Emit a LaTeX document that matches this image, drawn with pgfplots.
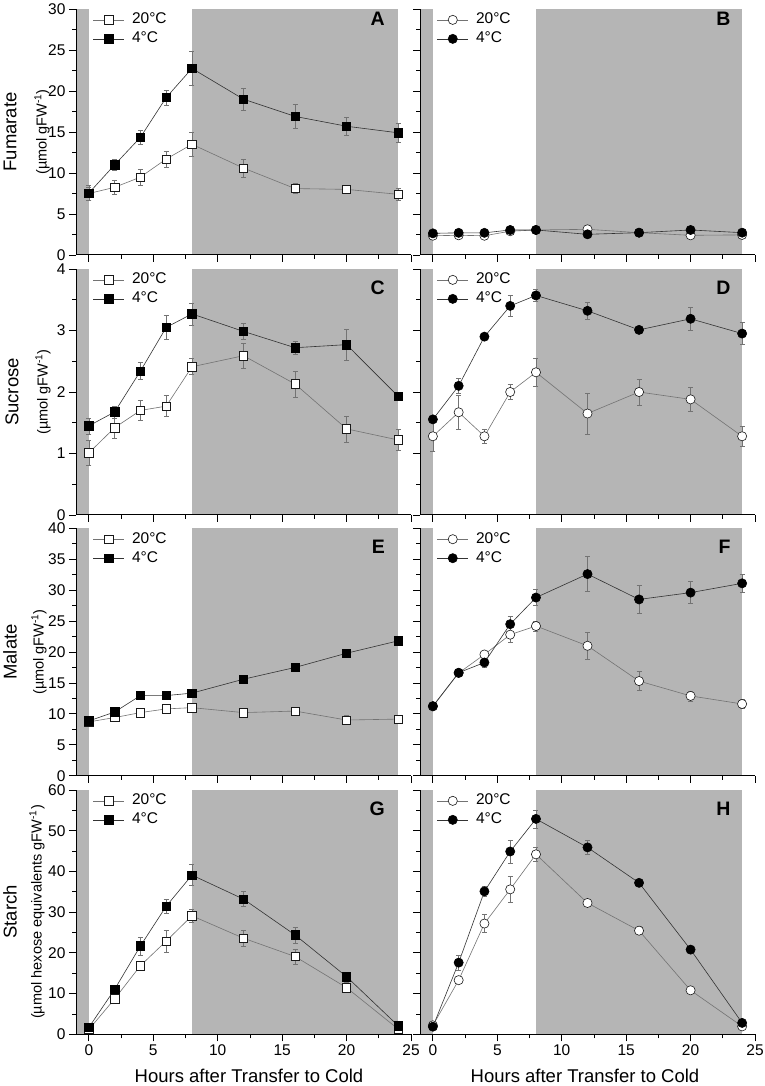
\documentclass[border=0pt]{standalone}
\usepackage{fontspec}
\setmainfont{Liberation Sans}
\usepackage{pgfplots}
\pgfplotsset{compat=1.18}
\definecolor{shade}{RGB}{181,181,181}
\pgfplotsset{
  panel/.style={
    scale only axis, width=335pt,
    xmin=-1, xmax=25, ymin=0,
    axis lines*=left, axis on top, clip=false,
    xtick={0,5,...,25}, minor x tick num=1, minor y tick num=1,
    tick pos=left, tick align=outside,
    major tick length=7pt, minor tick length=4pt,
    every tick/.style={black, line width=0.8pt},
    axis line style={black, line width=1pt},
    tick label style={font=\fontsize{15.5}{18}\selectfont},
    /pgf/number format/assume math mode=true,
    xticklabels={{},{},{},{},{},{}},
    legend cell align=left,
    legend image code/.code={\draw[mark repeat=2, mark phase=2, #1] plot coordinates {(0pt,0pt) (15.5pt,0pt) (31pt,0pt)};},
    legend style={draw=none, fill=none, at={(0.05,0.985)}, anchor=north west,
      inner sep=0pt, row sep=5pt, font=\fontsize{15.5}{18}\selectfont,
      nodes={inner sep=0pt, text height=11pt, text depth=3pt},
      /tikz/every odd column/.append style={column sep=7.5pt}},
  },
  leftp/.style={panel},
  rightp/.style={panel, yticklabels={{},{},{},{},{},{},{},{},{},{}}},
  bottomx/.style={xticklabels={0,5,10,15,20,25}},
  eb/.style={/pgfplots/error bars/y dir=both, /pgfplots/error bars/y explicit,
    /pgfplots/error bars/error bar style={black!55, line width=0.6pt},
    /pgfplots/error bars/error mark options={rotate=90, mark size=2.5pt, black!55, line width=0.6pt}},
  w20/.style={black!55, line width=0.6pt, mark size=4.2pt, mark options={fill=white, draw=black!90, line width=0.6pt}, eb},
  c4/.style={black!80, line width=0.6pt, mark size=4.2pt, mark options={fill=black, draw=black, line width=0.6pt}, eb},
  sq20/.style={w20, mark=square*},
  sq4/.style={c4, mark=square*},
  ci20/.style={w20, mark=*, mark size=4.6pt},
  ci4/.style={c4, mark=*, mark size=4.6pt},
}
\newcommand{\shading}[1]{%
  \addplot[draw=none, fill=shade, forget plot] coordinates {(-1,#1) (0,#1)} \closedcycle;
  \addplot[draw=none, fill=shade, forget plot] coordinates {(8,#1) (24,#1)} \closedcycle;}
\newcommand{\lblbig}[1]{\fontsize{18.5}{22}\selectfont #1}
\newcommand{\lblsm}[1]{\fontsize{14.5}{17}\selectfont #1}
\begin{document}
\begin{tikzpicture}
\useasboundingbox (0,0) rectangle (764pt,1086pt);
% ---------- Row 1
\begin{axis}[leftp, at={(76pt,831pt)}, anchor=south west, height=246pt, ymax=30, ytick={0,5,...,30}]
\shading{30}
\addplot[sq20] coordinates {(0,7.5)+-(0,0.8) (2,8.25)+-(0,0.8) (4,9.5)+-(0,1.0) (6,11.7)+-(0,1.0) (8,13.5)+-(0,1.5) (12,10.6)+-(0,1.1) (16,8.1)+-(0,0.6) (20,8.0)+-(0,0.4) (24,7.4)+-(0,0.7)};
\addplot[sq4] coordinates {(0,7.55)+-(0,0.9) (2,11.0)+-(0,0.7) (4,14.35)+-(0,0.8) (6,19.2)+-(0,0.9) (8,22.75)+-(0,2.1) (12,19.0)+-(0,1.3) (16,16.9)+-(0,1.5) (20,15.7)+-(0,1.1) (24,14.9)+-(0,1.15)};
\legend{20\textdegree C, 4\textdegree C}
\end{axis}
\begin{axis}[rightp, at={(420pt,831pt)}, anchor=south west, height=246pt, ymax=30, ytick={0,5,...,30}]
\shading{30}
\addplot[ci20] coordinates {(0,2.35)+-(0,0.1) (2,2.4)+-(0,0.1) (4,2.35)+-(0,0.1) (6,2.9)+-(0,0.1) (8,3.05)+-(0,0.1) (12,3.13)+-(0,0.1) (16,2.72)+-(0,0.1) (20,2.4)+-(0,0.1) (24,2.45)+-(0,0.1)};
\addplot[ci4] coordinates {(0,2.64)+-(0,0.1) (2,2.7)+-(0,0.1) (4,2.7)+-(0,0.1) (6,3.05)+-(0,0.1) (8,3.05)+-(0,0.1) (12,2.52)+-(0,0.1) (16,2.72)+-(0,0.1) (20,3.05)+-(0,0.1) (24,2.72)+-(0,0.1)};
\legend{20\textdegree C, 4\textdegree C}
\end{axis}
% ---------- Row 2
\begin{axis}[leftp, at={(76pt,571pt)}, anchor=south west, height=246pt, ymax=4, ytick={0,1,...,4}]
\shading{4}
\addplot[sq20] coordinates {(0,1.01)+-(0,0.2) (2,1.42)+-(0,0.18) (4,1.70)+-(0,0.16) (6,1.77)+-(0,0.17) (8,2.41)+-(0,0.13) (12,2.59)+-(0,0.2) (16,2.13)+-(0,0.21) (20,1.40)+-(0,0.21) (24,1.22)+-(0,0.17)};
\addplot[sq4] coordinates {(0,1.45)+-(0,0.13) (2,1.675)+-(0,0.1) (4,2.34)+-(0,0.14) (6,3.05)+-(0,0.2) (8,3.27)+-(0,0.18) (12,2.985)+-(0,0.13) (16,2.72)+-(0,0.1) (20,2.77)+-(0,0.25) (24,1.93)+-(0,0.05)};
\legend{20\textdegree C, 4\textdegree C}
\end{axis}
\begin{axis}[rightp, at={(420pt,571pt)}, anchor=south west, height=246pt, ymax=4, ytick={0,1,...,4}]
\shading{4}
\addplot[ci20] coordinates {(0,1.28)+-(0,0.24) (2,1.67)+-(0,0.27) (4,1.28)+-(0,0.11) (6,2.0)+-(0,0.12) (8,2.32)+-(0,0.22) (12,1.65)+-(0,0.33) (16,2.0)+-(0,0.21) (20,1.88)+-(0,0.2) (24,1.28)+-(0,0.17)};
\addplot[ci4] coordinates {(0,1.555)+-(0,0.05) (2,2.10)+-(0,0.12) (4,2.90)+-(0,0.05) (6,3.40)+-(0,0.17) (8,3.57)+-(0,0.1) (12,3.32)+-(0,0.14) (16,3.01)+-(0,0.05) (20,3.19)+-(0,0.18) (24,2.95)+-(0,0.18)};
\legend{20\textdegree C, 4\textdegree C}
\end{axis}
% ---------- Row 3
\begin{axis}[leftp, at={(76pt,310.3pt)}, anchor=south west, height=247.4pt, ymax=40, ytick={0,5,...,40}]
\shading{40}
\addplot[sq20] coordinates {(0,8.7)+-(0,0.5) (2,9.4)+-(0,0.4) (4,10.2)+-(0,0.4) (6,10.8)+-(0,0.4) (8,11.0)+-(0,0.5) (12,10.2)+-(0,0.4) (16,10.45)+-(0,0.4) (20,9.0)+-(0,0.7) (24,9.15)+-(0,0.5)};
\addplot[sq4] coordinates {(0,8.85)+-(0,0.5) (2,10.3)+-(0,0.5) (4,12.95)+-(0,0.4) (6,12.95)+-(0,0.4) (8,13.35)+-(0,0.4) (12,15.6)+-(0,0.4) (16,17.5)+-(0,0.6) (20,19.8)+-(0,0.6) (24,21.8)+-(0,0.4)};
\legend{20\textdegree C, 4\textdegree C}
\end{axis}
\begin{axis}[rightp, at={(420pt,310.3pt)}, anchor=south west, height=247.4pt, ymax=40, ytick={0,5,...,40}]
\shading{40}
\addplot[ci20] coordinates {(0,11.2)+-(0,0.3) (2,16.6)+-(0,0.5) (4,19.6)+-(0,0.5) (6,22.8)+-(0,1.2) (8,24.2)+-(0,0.8) (12,21.0)+-(0,2.15) (16,15.3)+-(0,1.5) (20,12.9)+-(0,0.8) (24,11.6)+-(0,0.7)};
\addplot[ci4] coordinates {(0,11.25)+-(0,0.3) (2,16.65)+-(0,0.5) (4,18.3)+-(0,0.8) (6,24.5)+-(0,1.3) (8,28.8)+-(0,1.3) (12,32.6)+-(0,2.8) (16,28.5)+-(0,2.3) (20,29.6)+-(0,1.75) (24,31.1)+-(0,1.45)};
\legend{20\textdegree C, 4\textdegree C}
\end{axis}
% ---------- Row 4
\begin{axis}[leftp, bottomx, at={(76pt,51.7pt)}, anchor=south west, height=244.3pt, ymax=60, ytick={0,10,...,60}]
\shading{60}
\addplot[sq20] coordinates {(0,1.2)+-(0,0.5) (2,8.7)+-(0,0.8) (4,16.85)+-(0,0.8) (6,22.9)+-(0,2.7) (8,29.1)+-(0,1.7) (12,23.6)+-(0,2.0) (16,19.1)+-(0,1.8) (20,11.45)+-(0,1.2) (24,1.3)+-(0,0.4)};
\addplot[sq4] coordinates {(0,1.7)+-(0,0.5) (2,11.05)+-(0,0.6) (4,21.7)+-(0,2.2) (6,31.45)+-(0,1.7) (8,39.1)+-(0,2.6) (12,33.2)+-(0,1.8) (16,24.4)+-(0,2.0) (20,14.15)+-(0,0.6) (24,2.1)+-(0,0.4)};
\legend{20\textdegree C, 4\textdegree C}
\end{axis}
\begin{axis}[rightp, bottomx, at={(420pt,51.7pt)}, anchor=south west, height=244.3pt, ymax=60, ytick={0,10,...,60}]
\shading{60}
\addplot[ci20] coordinates {(0,2.2)+-(0,0.5) (2,13.3)+-(0,0.8) (4,27.2)+-(0,2.2) (6,35.6)+-(0,3.3) (8,44.2)+-(0,1.8) (12,32.25)+-(0,0.6) (16,25.45)+-(0,1.0) (20,10.8)+-(0,0.6) (24,1.95)+-(0,0.4)};
\addplot[ci4] coordinates {(0,1.87)+-(0,0.5) (2,17.6)+-(0,1.8) (4,35.1)+-(0,1.2) (6,44.9)+-(0,2.8) (8,52.9)+-(0,2.2) (12,45.9)+-(0,1.8) (16,37.2)+-(0,0.8) (20,20.8)+-(0,0.6) (24,2.8)+-(0,0.5)};
\legend{20\textdegree C, 4\textdegree C}
\end{axis}
% ---------- panel letters
\foreach \lx/\ly/\lt in {385/1074.5/A, 730.7/1074.5/B, 385/805.5/C, 730.7/805.5/D, 385/546.5/E, 730.7/546.5/F, 385/284.5/G, 730.7/284.5/H}
  \node[anchor=north east, inner sep=0pt, font=\bfseries\fontsize{19.5}{22}\selectfont] at (\lx pt,\ly pt) {\lt};
% ---------- y labels
\node[rotate=90] at (10pt,954pt) {\lblbig{Fumarate}};
\node[rotate=90] at (42pt,954pt) {\lblsm{(µmol gFW\textsuperscript{-1})}};
\node[rotate=90] at (12pt,694pt) {\lblbig{Sucrose}};
\node[rotate=90] at (43pt,694pt) {\lblsm{(µmol gFW\textsuperscript{-1})}};
\node[rotate=90] at (10pt,434pt) {\lblbig{Malate}};
\node[rotate=90] at (39pt,434pt) {\lblsm{(µmol gFW\textsuperscript{-1})}};
\node[rotate=90] at (10pt,174pt) {\lblbig{Starch}};
\node[rotate=90] at (37pt,174pt) {\lblsm{(µmol hexose equivalents gFW\textsuperscript{-1})}};
% ---------- x labels
\node[inner sep=0pt, anchor=base] at (249pt,3.5pt) {\lblbig{Hours after Transfer to Cold}};
\node[inner sep=0pt, anchor=base] at (585pt,3.5pt) {\lblbig{Hours after Transfer to Cold}};
\end{tikzpicture}
\end{document}
